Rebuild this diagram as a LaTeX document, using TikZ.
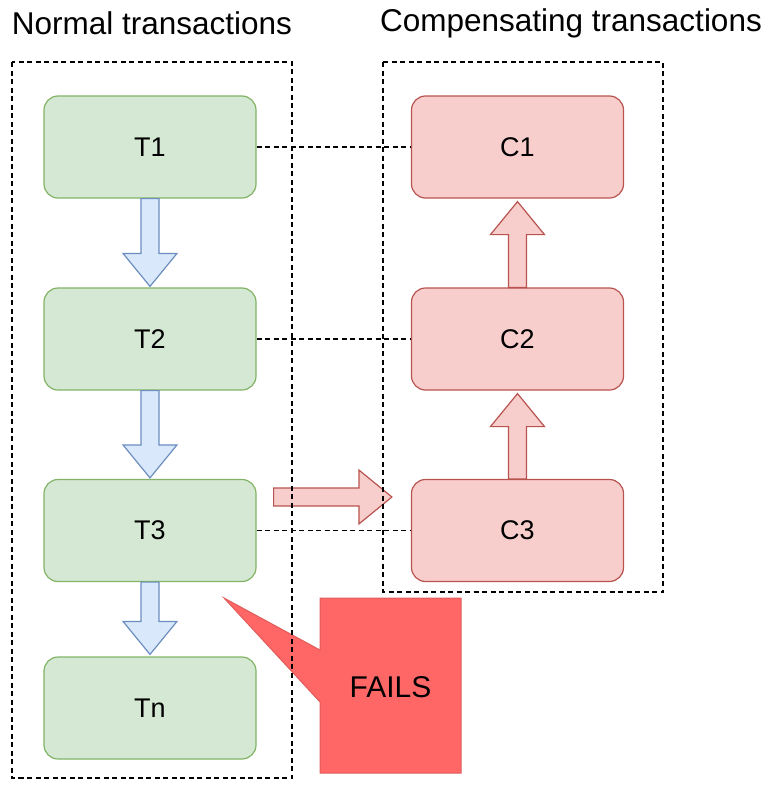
\documentclass[tikz,border=0pt]{standalone}
\usepackage{fontspec}
\setmainfont{Liberation Sans}
\usetikzlibrary{calc}
\definecolor{tgreen}{HTML}{D5E8D4}
\definecolor{tgreenline}{HTML}{82B366}
\definecolor{cred}{HTML}{F8CECC}
\definecolor{credline}{HTML}{B85450}
\definecolor{ablue}{HTML}{DAE8FC}
\definecolor{ablueline}{HTML}{6C8EBF}
\definecolor{failred}{HTML}{FF6666}

\newcommand{\blockarrow}[3]{%
  \path coordinate (s) at (#2) coordinate (e) at (#3);
  \path coordinate (h) at ($(e)!33pt!(s)$);
  \draw[#1] ($(s)!9pt!90:(e)$) -- ($(h)!9pt!90:(e)$) -- ($(h)!27pt!90:(e)$)
    -- (e) -- ($(h)!27pt!-90:(e)$) -- ($(h)!9pt!-90:(e)$) -- ($(s)!9pt!-90:(e)$) -- cycle;
}

\tikzset{
  box/.style={rounded corners=14pt, minimum width=212pt, minimum height=102pt,
    line width=1.2pt, font=\fontsize{27}{32}\selectfont},
  tbox/.style={box, draw=tgreenline, fill=tgreen},
  cbox/.style={box, draw=credline, fill=cred},
  group/.style={dash pattern=on 5pt off 3.5pt, line width=1.2pt},
  link/.style={dash pattern=on 5pt off 3.5pt, line width=1.1pt},
  downarrow/.style={draw=ablueline, fill=ablue, line width=1.2pt},
  uparrow/.style={draw=credline, fill=cred, line width=1.2pt},
  title/.style={font=\fontsize{31.5}{37}\selectfont}
}

\begin{document}
\begin{tikzpicture}[x=1pt, y=1pt]
  \useasboundingbox (0,0) rectangle (769,-792);

  \node[title] (normal) at (152,-23) {Normal transactions};
  \node[title] (comp) at (571,-23) {Compensating transactions};

  \node[tbox] (T1) at (150,-147) {T1};
  \node[tbox] (T2) at (150,-339) {T2};
  \node[tbox] (T3) at (150,-530.5) {T3};
  \node[tbox] (Tn) at (150,-708) {Tn};
  \node[cbox] (C1) at (517.5,-147) {C1};
  \node[cbox] (C2) at (517.5,-339) {C2};
  \node[cbox] (C3) at (517.5,-530.5) {C3};

  \draw[link] (T1.east) -- (C1.west);
  \draw[link] (T2.east) -- (C2.west);
  \draw[link] (T3.east) -- (C3.west);

  \blockarrow{downarrow}{T1.south}{$(T2.north)+(0,1)$}
  \blockarrow{downarrow}{T2.south}{$(T3.north)+(0,1)$}
  \blockarrow{downarrow}{T3.south}{$(Tn.north)+(0,2)$}
  \blockarrow{uparrow}{C3.north}{$(C2.south)+(0,-3)$}
  \blockarrow{uparrow}{C2.north}{$(C1.south)+(0,-3)$}
  \blockarrow{uparrow}{$(T3.east)+(17,33.5)$}{$(C3.west)+(-19,33.5)$}

  \coordinate (tip) at (224,-598);
  \draw[fill=failred, draw=credline!45!failred, line width=1pt]
    (320,-598) -- (461,-598) -- (461,-773) -- (320,-773) -- (320,-702)
    -- (tip) -- (320,-650) -- cycle;
  \node[font=\fontsize{30}{36}\selectfont] (fails) at (390.5,-687.5) {FAILS};

  \draw[group] (12,-62) rectangle (292,-778);
  \draw[group] (383,-62) rectangle (663,-592);
\end{tikzpicture}
\end{document}
